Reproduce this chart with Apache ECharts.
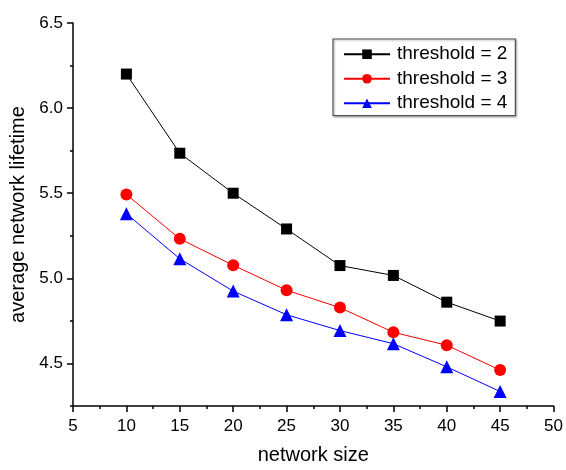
<!DOCTYPE html>
<html>
<head>
<meta charset="utf-8">
<script src="https://cdn.jsdelivr.net/npm/echarts@6/dist/echarts.min.js"></script>
<style>html,body{margin:0;padding:0;background:#fff;}#c{width:566px;height:470px;}</style>
</head>
<body>
<div id="c"></div>
<script>
const sizes = [10, 15, 20, 25, 30, 35, 40, 45];
const threshold2 = [6.20, 5.735, 5.50, 5.29, 5.075, 5.017, 4.86, 4.749];
const threshold3 = [5.493, 5.232, 5.077, 4.93, 4.828, 4.683, 4.607, 4.461];
const threshold4 = [5.38, 5.115, 4.925, 4.786, 4.693, 4.616, 4.48, 4.335];
const seriesNames = ['threshold = 2', 'threshold = 3', 'threshold = 4'];
const yMajor = [4.5, 5.0, 5.5, 6.0, 6.5];
const yMinor = [4.25, 4.75, 5.25, 5.75, 6.25];

const font = 'Liberation Sans, Arial, sans-serif';
const chart = echarts.init(document.getElementById('c'));
function pairs(arr){ return sizes.map((x,i)=>[x, arr[i]]); }
const yBase = {
  type: 'value', min: 4.25, max: 6.5, splitLine: {show: false}
};
chart.setOption({
  animation: false,
  backgroundColor: '#fff',
  grid: {left: 73, right: 10, top: 23, bottom: 60, containLabel: false},
  legend: {
    orient: 'vertical', left: 333, top: 39,
    data: seriesNames,
    itemWidth: 46, itemHeight: 12, itemGap: 0,
    padding: [3, 8, 0, 10],
    borderColor: '#555', borderWidth: 1.2,
    shadowColor: 'rgba(0,0,0,0.35)', shadowBlur: 2, shadowOffsetX: 1, shadowOffsetY: 1,
    backgroundColor: '#fff',
    textStyle: {fontFamily: font, fontSize: 19, color: '#000', lineHeight: 24.5, padding: [0, 0, 0, 2]}
  },
  xAxis: {
    type: 'value', min: 5, max: 50, interval: 5,
    name: 'network size', nameLocation: 'middle', nameGap: 39,
    nameTextStyle: {fontFamily: font, fontSize: 20, color: '#000'},
    axisLine: {lineStyle: {color: '#000', width: 1.5}},
    axisTick: {inside: false, length: 6, lineStyle: {color: '#000', width: 1.5}},
    minorTick: {show: true, splitNumber: 2, length: 3, lineStyle: {color: '#000', width: 1.5}},
    axisLabel: {fontFamily: font, fontSize: 17, color: '#000', margin: 12},
    splitLine: {show: false}
  },
  yAxis: [
    Object.assign({}, yBase, {
      name: 'average network lifetime', nameLocation: 'middle', nameGap: 36,
      nameTextStyle: {fontFamily: font, fontSize: 20, color: '#000'},
      axisLine: {show: true, lineStyle: {color: '#000', width: 1.5}},
      axisTick: {show: true, length: 6, customValues: yMajor, lineStyle: {color: '#000', width: 1.5}},
      axisLabel: {fontFamily: font, fontSize: 17, color: '#000', margin: 10, customValues: yMajor,
        formatter: v => v.toFixed(1)}
    }),
    Object.assign({}, yBase, {
      position: 'left',
      axisLine: {show: false},
      axisTick: {show: true, length: 3, customValues: yMinor, lineStyle: {color: '#000', width: 1.5}},
      axisLabel: {show: false}
    })
  ],
  series: [
    {name: seriesNames[0], type: 'line', data: pairs(threshold2), symbol: 'rect', symbolSize: 11,
     lineStyle: {color: '#000', width: 1}, itemStyle: {color: '#000'}, color: '#000'},
    {name: seriesNames[1], type: 'line', data: pairs(threshold3), symbol: 'circle', symbolSize: 12,
     lineStyle: {color: '#ff0000', width: 1}, itemStyle: {color: '#ff0000'}, color: '#ff0000'},
    {name: seriesNames[2], type: 'line', data: pairs(threshold4), symbol: 'triangle', symbolSize: 13,
     lineStyle: {color: '#0000ff', width: 1}, itemStyle: {color: '#0000ff'}, color: '#0000ff'}
  ]
});
</script>
</body>
</html>
